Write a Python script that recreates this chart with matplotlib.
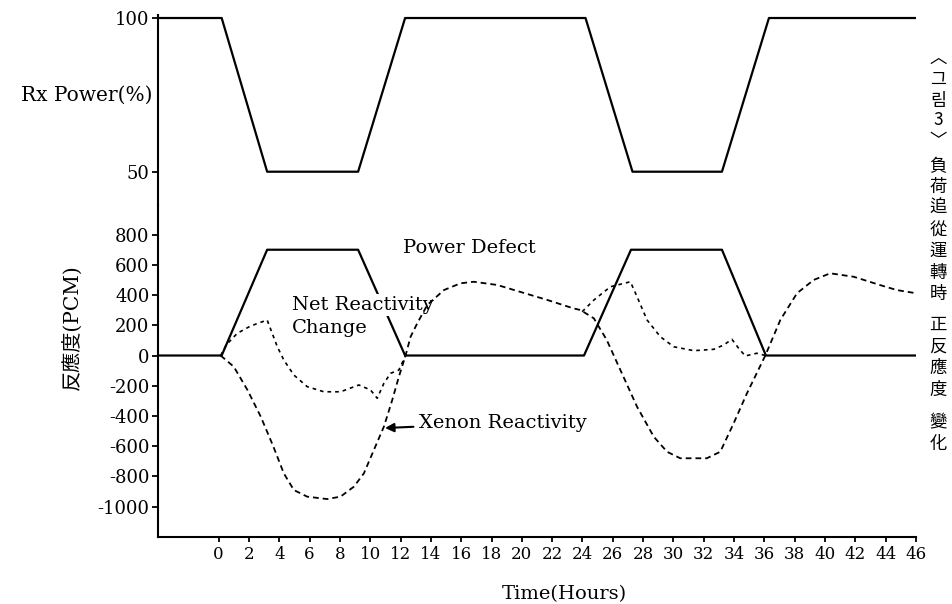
import numpy as np
import matplotlib
matplotlib.use("Agg")
import matplotlib.pyplot as plt

# ---------------- data ----------------
power_t = [-4, 0.2, 3.2, 9.2, 12.3, 24.2, 27.3, 33.2, 36.3, 46]
power_v = [100, 100, 50, 50, 100, 100, 50, 50, 100, 100]

defect_t = [-4, 0.2, 3.2, 9.2, 12.3, 24.1, 27.2, 33.2, 36.1, 46]
defect_v = [0, 0, 700, 700, 0, 0, 700, 700, 0, 0]

xenon_t = [0.13, 1.0, 1.9, 2.78, 3.6, 4.3, 4.96, 5.84, 7.16, 8.04, 8.92, 9.58,
           10.24, 10.9, 11.45, 11.89, 12.33, 12.66, 13.1, 13.76, 14.86, 15.96,
           16.83, 18.37, 19.5, 21.7, 23.4, 23.87, 24.75, 25.6, 26.5, 27.6, 28.7,
           29.58, 30.45, 32.2, 33.09, 33.97, 34.85, 36.06, 37.05, 38.15, 39.25,
           40.34, 41.9, 43.6, 44.74, 45.95]
xenon_v = [0, -74, -228, -405, -600, -780, -890, -934, -950, -934, -868, -780,
           -625, -471, -295, -140, 0, 124, 213, 334, 433, 478,
           488, 467, 433, 367, 312, 301, 246, 103, -96, -339, -537,
           -637, -680, -680, -637, -449, -250, 0, 235, 412, 500,
           544, 521, 467, 433, 413]

net_t = [0.13, 0.5, 1.23, 2.1, 3.2, 3.87, 4.3, 4.96, 5.84, 6.94, 8.04, 9.25,
         10.02, 10.46, 10.9, 11.34, 11.89, 12.33, np.nan,
         23.98, 24.75, 25.84, 27.16, 27.6, 28.26, 29.14, 30.02, 31.34, 32.66,
         33.3, 33.86, 34.3, 34.74, 35.5, 36.06]
net_v = [0, 70, 147, 195, 235, 58, -30, -129, -206, -240, -240, -195,
         -228, -283, -184, -118, -96, 0, np.nan,
         290, 367, 455, 488, 389, 235, 124, 58, 32, 41,
         69, 107, 48, -3, 15, 0]

x_ticks = list(range(0, 47, 2))
power_ticks = [50, 100]
react_ticks = [-1000, -800, -600, -400, -200, 0, 200, 400, 600, 800]
react_labels = ["-1000", "-800", "-600", "-400", "-200", "0", "200", "400", "600", "800"]

caption_chars = ["︿", "그", "림", "3", "﹀", "負", "荷", "追", "從", "運", "轉", "時",
                 "正", "反", "應", "度", "變", "化"]

# ---------------- figure ----------------
W, H = 953, 604
fig = plt.figure(figsize=(W / 100, H / 100), dpi=100)
serif = "DejaVu Serif"
plt.rcParams["font.family"] = [serif, "Noto Sans CJK KR"]


def fx(x):
    return x / W


def fy(y):
    return 1 - y / H


left, right = 158, 916
ax1 = fig.add_axes([fx(left), fy(205), fx(right - left), (205 - 15) / H])
ax2 = fig.add_axes([fx(left), fy(537), fx(right - left), (537 - 205) / H])

for ax in (ax1, ax2):
    ax.set_xlim(-4, 46)
    ax.set_facecolor("none")
    for s in ("top", "right"):
        ax.spines[s].set_visible(False)
    ax.spines["left"].set_linewidth(1.5)
    ax.tick_params(axis="y", direction="out", length=4.5, width=1.3, pad=1.5,
                   labelsize=13)

ax1.spines["bottom"].set_visible(False)
ax1.set_ylim(39.17, 100.98)
ax1.set_xticks([])
ax1.set_yticks(power_ticks)
ax1.set_yticklabels([str(v) for v in power_ticks], fontfamily=serif)
ax1.plot(power_t, power_v, color="black", lw=1.6)

ax2.spines["bottom"].set_linewidth(1.5)
ax2.set_ylim(-1201, 996)
ax2.set_yticks(react_ticks)
ax2.set_yticklabels(react_labels, fontfamily=serif)
ax2.set_xticks(x_ticks)
ax2.set_xticklabels([str(t) for t in x_ticks], fontfamily=serif, fontsize=12)
ax2.tick_params(axis="x", direction="out", length=3.5, width=1.3, pad=3)

ax2.plot(defect_t, defect_v, color="black", lw=1.6, zorder=2)
ax2.plot(xenon_t, xenon_v, color="black", lw=1.3, dashes=(3.2, 2.2), zorder=4)
ax2.plot(net_t, net_v, color="black", lw=1.2, dashes=(2.2, 2.4), zorder=4)

# ---------------- texts ----------------
tf = fig.transFigure
fig.text(fx(153), fy(95), "Rx Power(%)", ha="right", va="center",
         fontsize=14.5, fontfamily=serif)
fig.text(fx(72), fy(327), "反應度(PCM)", rotation=90, ha="center", va="center",
         fontsize=14.5, fontfamily=[serif, "Noto Sans CJK KR"])
fig.text(fx(564), fy(594), "Time(Hours)", ha="center", va="center",
         fontsize=14, fontfamily=serif)

ax2.text(fx(403), fy(248), "Power Defect", transform=tf, ha="left", va="center",
         fontsize=14, fontfamily=serif, zorder=5)
ax2.text(fx(292), fy(305), "Net Reactivity", transform=tf, ha="left", va="center",
         fontsize=14, fontfamily=serif, zorder=3,
         bbox=dict(facecolor="white", edgecolor="none", pad=1.5))
ax2.text(fx(292), fy(328), "Change", transform=tf, ha="left", va="center",
         fontsize=14, fontfamily=serif, zorder=3)
ax2.annotate("Xenon Reactivity", xy=(fx(385), fy(428)), xycoords=tf,
             xytext=(fx(419), fy(423)), textcoords=tf, ha="left", va="center",
             fontsize=14, fontfamily=serif, zorder=5,
             arrowprops=dict(arrowstyle="-|>", color="black", lw=1.5,
                             mutation_scale=13, shrinkA=2, shrinkB=0))

# vertical caption on the right
cap_y = [58, 80, 101, 120, 141, 166, 187, 208, 230, 251, 273, 294,
         325, 347, 368, 390, 422, 444]
for ch, y in zip(caption_chars, cap_y):
    fig.text(fx(938), fy(y), ch, ha="center", va="center",
             fontsize=12.5,
             fontfamily=["Noto Sans CJK KR", "DejaVu Sans"])

fig.savefig("out.png", dpi=100, facecolor="white")
